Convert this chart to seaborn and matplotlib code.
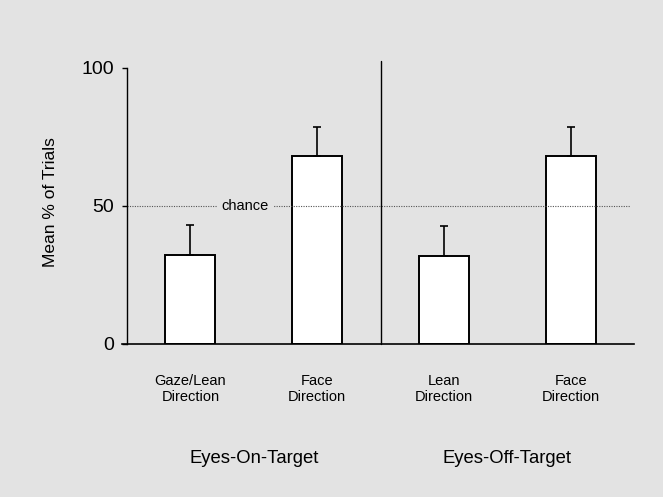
import matplotlib
matplotlib.use("Agg")
import matplotlib.pyplot as plt
import seaborn as sns
import pandas as pd

categories = ["Gaze/Lean\nDirection", "Face\nDirection", "Lean\nDirection", "Face\nDirection"]
keys = ["c1", "c2", "c3", "c4"]
means = [32.2, 68.2, 32.0, 68.0]
errors = [10.9, 10.5, 10.9, 10.6]
groups = ["Eyes-On-Target", "Eyes-Off-Target"]
chance = 50
yticks = [0, 50, 100]

BG = "#e3e3e3"
sns.set_style("white")
plt.rcParams["font.family"] = ["Liberation Sans", "DejaVu Sans"]
plt.rcParams["text.color"] = "black"

df = pd.DataFrame({"cond": keys, "mean": means})

fig = plt.figure(figsize=(6.63, 4.97), dpi=100, facecolor=BG)
ax = fig.add_axes([122 / 663, (497 - 344) / 497, (634 - 122) / 663, (344 - 61) / 497])
ax.set_facecolor(BG)

sns.barplot(data=df, x="cond", y="mean", ax=ax, color="white", width=0.395,
            edgecolor="black", linewidth=1.4, saturation=1, errorbar=None)

xs = list(range(len(means)))
ax.errorbar(xs, means, yerr=[[0] * len(errors), errors], fmt="none",
            ecolor="black", elinewidth=1.2, capsize=3.2, capthick=1.2, zorder=3)

ax.set_xlim(-0.54, 3.5)
ax.set_ylim(0, 102.5)

# chance line
ax.axhline(chance, xmin=0.04 / 4.04, xmax=0.993, color="#555555", lw=0.8,
           ls=(0, (1, 1.2)), zorder=1)
ax.text(0.43, chance, "chance", ha="center", va="center", fontsize=10.5,
        color="black", bbox=dict(facecolor=BG, edgecolor="none", pad=3), zorder=2)

# separator
ax.plot([1.5, 1.5], [0, 102.5], color="black", lw=1.0, clip_on=False)

for s in ["top", "right"]:
    ax.spines[s].set_visible(False)
ax.spines["left"].set_position(("data", -0.5))
ax.spines["left"].set_bounds(0, 100)
ax.spines["left"].set_linewidth(1.0)
ax.spines["bottom"].set_linewidth(1.2)
ax.spines["left"].set_color("black")
ax.spines["bottom"].set_color("black")

ax.set_yticks(yticks)
ax.set_yticklabels([str(t) for t in yticks], fontsize=14)
ax.tick_params(axis="y", left=True, length=3.5, width=1.0, pad=6, colors="black")
ax.set_xticks(xs)
ax.set_xticklabels(categories, fontsize=10.5, linespacing=1.15, color="black")
ax.tick_params(axis="x", bottom=False, pad=18)
ax.set_xlabel("")
ax.set_ylabel("Mean % of Trials", fontsize=12.5, labelpad=17, color="black")

for i, g in enumerate(groups):
    ax.text(0.5 + 2 * i, -41.5, g, ha="center", va="center", fontsize=13.3,
            color="black", transform=ax.transData, clip_on=False)

fig.savefig("out.png", dpi=100, facecolor=BG)
